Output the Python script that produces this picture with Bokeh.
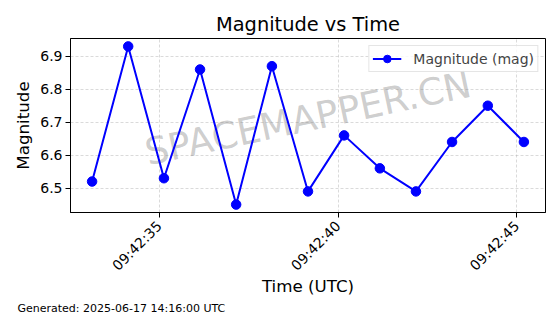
import math
import pandas as pd
from bokeh.plotting import figure
from bokeh.models import (Range1d, SingleIntervalTicker, DatetimeTickFormatter,
                          PrintfTickFormatter, Label, Title)
from bokeh.embed import file_html
from bokeh.resources import INLINE

# ---- data ----
times = ["2025-06-17 09:42:33.12", "2025-06-17 09:42:34.13", "2025-06-17 09:42:35.13",
         "2025-06-17 09:42:36.14", "2025-06-17 09:42:37.15", "2025-06-17 09:42:38.15",
         "2025-06-17 09:42:39.16", "2025-06-17 09:42:40.17", "2025-06-17 09:42:41.17",
         "2025-06-17 09:42:42.18", "2025-06-17 09:42:43.19", "2025-06-17 09:42:44.19",
         "2025-06-17 09:42:45.20"]
magnitudes = [6.52, 6.93, 6.53, 6.86, 6.45, 6.87, 6.49, 6.66, 6.56, 6.49, 6.64, 6.75, 6.64]
series_label = "Magnitude (mag)"
title_text = "Magnitude vs Time"
x_label = "Time (UTC)"
y_label = "Magnitude"
watermark = "SPACEMAPPER.CN"
footer = "Generated: 2025-06-17 14:16:00 UTC"

FONT = "DejaVu Sans"

t = pd.to_datetime(times)
tmin, tmax = t.min(), t.max()
tpad = (tmax - tmin) * 0.05
ymin, ymax = min(magnitudes), max(magnitudes)
ypad = (ymax - ymin) * 0.05

x_range = Range1d(start=tmin - tpad, end=tmax + tpad)
y_range = Range1d(start=ymin - ypad, end=ymax + ypad)

p = figure(width=560, height=314, x_axis_type="datetime", output_backend="svg",
           toolbar_location=None, x_range=x_range, y_range=y_range,
           min_border_left=70, min_border_right=15, min_border_top=38,
           min_border_bottom=102, background_fill_color="white",
           border_fill_color="white")

p.outline_line_color = "black"
p.outline_line_width = 1
p.outline_line_alpha = 1

p.title.text = title_text
p.title.align = "center"
p.title.text_font = FONT
p.title.text_font_size = "19.4px"
p.title.text_font_style = "normal"
p.title.text_color = "black"
p.title.standoff = 6

for ax in (p.xaxis[0], p.yaxis[0]):
    ax.axis_line_color = "black"
    ax.major_tick_line_color = "black"
    ax.major_tick_out = 5
    ax.major_tick_in = 0
    ax.minor_tick_line_color = None
    ax.major_label_text_font = FONT
    ax.major_label_text_font_size = "14px"
    ax.major_label_text_color = "black"
    ax.axis_label_text_font = FONT
    ax.axis_label_text_font_size = "16.7px"
    ax.axis_label_text_font_style = "normal"
    ax.axis_label_text_color = "black"

p.xaxis.axis_label = x_label
p.yaxis.axis_label = y_label
p.xaxis.ticker = SingleIntervalTicker(interval=5000, num_minor_ticks=0)
p.xaxis.formatter = DatetimeTickFormatter(milliseconds="%H:%M:%S", seconds="%H:%M:%S",
                                          minsec="%H:%M:%S", minutes="%H:%M:%S")
p.xaxis.major_label_orientation = math.pi / 4
p.xaxis.major_label_standoff = 6
p.xaxis.axis_label_standoff = -6
p.yaxis.ticker = SingleIntervalTicker(interval=0.1, num_minor_ticks=0)
p.yaxis.formatter = PrintfTickFormatter(format="%.1f")
p.yaxis.major_label_standoff = 3
p.yaxis.axis_label_standoff = 4

for g in (p.xgrid[0], p.ygrid[0]):
    g.grid_line_color = "#b0b0b0"
    g.grid_line_alpha = 0.6
    g.grid_line_dash = "3 2"
    g.grid_line_width = 0.8

wm = Label(x=tmin + (tmax - tmin) / 2, y=(ymin + ymax) / 2, text=watermark,
           angle=12, angle_units="deg", text_font=FONT, text_font_size="37px",
           text_color="gray", text_alpha=0.4, text_align="center",
           text_baseline="middle", level="underlay", y_offset=7)
p.add_layout(wm)

p.line(t, magnitudes, line_color="blue", line_width=2, legend_label=series_label)
p.scatter(t, magnitudes, size=9.5, fill_color="blue", line_color="blue",
          legend_label=series_label)

lg = p.legend[0]
lg.location = "top_right"
lg.margin = 7
lg.padding = 3
lg.spacing = 0
lg.label_text_font = FONT
lg.label_text_font_size = "14px"
lg.label_height = 19
lg.glyph_height = 19
lg.glyph_width = 29
lg.label_standoff = 12
lg.border_line_color = "#cccccc"
lg.border_line_width = 1
lg.background_fill_alpha = 0.8

ft = Title(text=footer, align="left", text_font=FONT, text_font_size="11px",
           text_font_style="normal", text_color="black", standoff=0, offset=-53)
p.add_layout(ft, "below")

open("out.html", "w").write(file_html(p, INLINE))
